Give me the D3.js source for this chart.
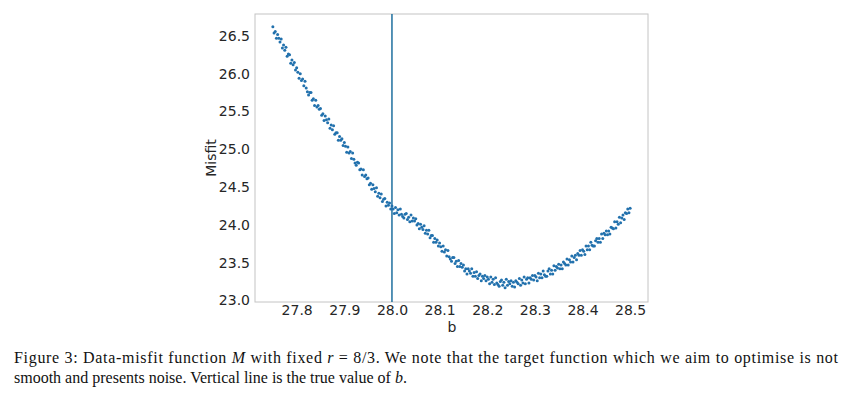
<!DOCTYPE html>
<html>
<head>
<meta charset="utf-8">
<script src="https://cdn.jsdelivr.net/npm/d3@7"></script>
<style>
  body { margin: 0; background: #fff; }
  svg { display: block; }
</style>
</head>
<body>
<script>
// b values (x)
const bValues = [
  27.75,27.7525,27.755,27.7575,27.76,27.7625,27.765,27.7675,27.77,27.7725,
  27.775,27.7775,27.78,27.7825,27.785,27.7875,27.79,27.7925,27.795,27.7975,
  27.8,27.8025,27.805,27.8075,27.81,27.8125,27.815,27.8175,27.82,27.8225,
  27.825,27.8275,27.83,27.8325,27.835,27.8375,27.84,27.8425,27.845,27.8475,
  27.85,27.8525,27.855,27.8575,27.86,27.8625,27.865,27.8675,27.87,27.8725,
  27.875,27.8775,27.88,27.8825,27.885,27.8875,27.89,27.8925,27.895,27.8975,
  27.9,27.9025,27.905,27.9075,27.91,27.9125,27.915,27.9175,27.92,27.9225,
  27.925,27.9275,27.93,27.9325,27.935,27.9375,27.94,27.9425,27.945,27.9475,
  27.95,27.9525,27.955,27.9575,27.96,27.9625,27.965,27.9675,27.97,27.9725,
  27.975,27.9775,27.98,27.9825,27.985,27.9875,27.99,27.9925,27.995,27.9975,
  28.0,28.0025,28.005,28.0075,28.01,28.0125,28.015,28.0175,28.02,28.0225,
  28.025,28.0275,28.03,28.0325,28.035,28.0375,28.04,28.0425,28.045,28.0475,
  28.05,28.0525,28.055,28.0575,28.06,28.0625,28.065,28.0675,28.07,28.0725,
  28.075,28.0775,28.08,28.0825,28.085,28.0875,28.09,28.0925,28.095,28.0975,
  28.1,28.1025,28.105,28.1075,28.11,28.1125,28.115,28.1175,28.12,28.1225,
  28.125,28.1275,28.13,28.1325,28.135,28.1375,28.14,28.1425,28.145,28.1475,
  28.15,28.1525,28.155,28.1575,28.16,28.1625,28.165,28.1675,28.17,28.1725,
  28.175,28.1775,28.18,28.1825,28.185,28.1875,28.19,28.1925,28.195,28.1975,
  28.2,28.2025,28.205,28.2075,28.21,28.2125,28.215,28.2175,28.22,28.2225,
  28.225,28.2275,28.23,28.2325,28.235,28.2375,28.24,28.2425,28.245,28.2475,
  28.25,28.2525,28.255,28.2575,28.26,28.2625,28.265,28.2675,28.27,28.2725,
  28.275,28.2775,28.28,28.2825,28.285,28.2875,28.29,28.2925,28.295,28.2975,
  28.3,28.3025,28.305,28.3075,28.31,28.3125,28.315,28.3175,28.32,28.3225,
  28.325,28.3275,28.33,28.3325,28.335,28.3375,28.34,28.3425,28.345,28.3475,
  28.35,28.3525,28.355,28.3575,28.36,28.3625,28.365,28.3675,28.37,28.3725,
  28.375,28.3775,28.38,28.3825,28.385,28.3875,28.39,28.3925,28.395,28.3975,
  28.4,28.4025,28.405,28.4075,28.41,28.4125,28.415,28.4175,28.42,28.4225,
  28.425,28.4275,28.43,28.4325,28.435,28.4375,28.44,28.4425,28.445,28.4475,
  28.45,28.4525,28.455,28.4575,28.46,28.4625,28.465,28.4675,28.47,28.4725,
  28.475,28.4775,28.48,28.4825,28.485,28.4875,28.49,28.4925,28.495,28.4975,
  28.5
];

// misfit values (y), one per b
const misfit = [
  26.62,26.54,26.56,26.47,26.52,26.47,26.42,26.46,26.34,26.38,
  26.31,26.35,26.23,26.26,26.25,26.14,26.18,26.12,26.15,26.05,
  26.08,26.02,25.94,26.00,25.91,25.93,25.84,25.90,25.81,25.76,
  25.72,25.75,25.75,25.65,25.67,25.58,25.65,25.56,25.58,25.53,
  25.54,25.45,25.47,25.38,25.44,25.39,25.35,25.40,25.28,25.32,
  25.26,25.31,25.20,25.22,25.22,25.12,25.17,25.12,25.14,25.05,
  25.09,25.04,24.96,25.03,24.95,24.97,24.88,24.95,24.87,24.82,
  24.79,24.83,24.82,24.73,24.74,24.66,24.73,24.64,24.66,24.61,
  24.62,24.53,24.55,24.47,24.53,24.48,24.44,24.49,24.38,24.42,
  24.36,24.41,24.31,24.34,24.35,24.25,24.30,24.26,24.29,24.21,
  24.25,24.21,24.15,24.23,24.16,24.20,24.13,24.21,24.14,24.11,
  24.09,24.14,24.15,24.07,24.10,24.04,24.13,24.05,24.09,24.05,
  24.08,24.00,24.02,23.95,24.01,23.97,23.94,23.99,23.89,23.93,
  23.88,23.93,23.83,23.86,23.86,23.77,23.82,23.77,23.80,23.72,
  23.76,23.71,23.65,23.72,23.64,23.67,23.59,23.66,23.58,23.55,
  23.52,23.57,23.57,23.49,23.52,23.45,23.53,23.45,23.49,23.44,
  23.47,23.39,23.42,23.35,23.42,23.39,23.36,23.42,23.32,23.37,
  23.32,23.38,23.29,23.33,23.35,23.26,23.32,23.29,23.33,23.26,
  23.31,23.28,23.22,23.31,23.24,23.28,23.21,23.30,23.23,23.21,
  23.19,23.25,23.27,23.20,23.24,23.17,23.28,23.20,23.25,23.22,
  23.26,23.19,23.24,23.18,23.26,23.24,23.22,23.29,23.20,23.27,
  23.23,23.31,23.22,23.28,23.30,23.23,23.30,23.28,23.33,23.27,
  23.33,23.31,23.26,23.36,23.30,23.35,23.30,23.39,23.34,23.32,
  23.32,23.39,23.42,23.35,23.40,23.35,23.46,23.40,23.45,23.43,
  23.48,23.42,23.47,23.42,23.51,23.49,23.47,23.55,23.47,23.54,
  23.51,23.59,23.51,23.57,23.60,23.54,23.62,23.60,23.66,23.60,
  23.67,23.65,23.61,23.72,23.67,23.72,23.67,23.77,23.73,23.72,
  23.72,23.79,23.82,23.77,23.82,23.77,23.88,23.82,23.89,23.87,
  23.92,23.87,23.92,23.88,23.97,23.96,23.95,24.04,23.96,24.04,
  24.01,24.10,24.03,24.09,24.13,24.07,24.16,24.15,24.21,24.16,
  24.22
];

const xTicks = [27.8, 27.9, 28.0, 28.1, 28.2, 28.3, 28.4, 28.5];
const yTicks = [23.0, 23.5, 24.0, 24.5, 25.0, 25.5, 26.0, 26.5];
const trueB = 28.0;

const W = 852, H = 399;
const plot = { left: 255, right: 648, top: 14, bottom: 302 };

const svg = d3.select("body").append("svg")
    .attr("width", W)
    .attr("height", H);

const x = d3.scaleLinear()
    .domain([27.7125, 28.5375])
    .range([plot.left, plot.right]);

const y = d3.scaleLinear()
    .domain([22.98, 26.79])
    .range([plot.bottom, plot.top]);

// frame
svg.append("rect")
    .attr("x", plot.left)
    .attr("y", plot.top)
    .attr("width", plot.right - plot.left)
    .attr("height", plot.bottom - plot.top)
    .attr("fill", "none")
    .attr("stroke", "#c4c4c4")
    .attr("stroke-width", 1);

const xAxis = svg.append("g")
    .attr("transform", "translate(0," + plot.bottom + ")")
    .call(d3.axisBottom(x).tickValues(xTicks).tickFormat(d3.format(".1f")).tickSize(0).tickPadding(3));

const yAxis = svg.append("g")
    .attr("transform", "translate(" + plot.left + ",0)")
    .call(d3.axisLeft(y).tickValues(yTicks).tickFormat(d3.format(".1f")).tickSize(0).tickPadding(5));

[xAxis, yAxis].forEach(g => {
    g.select(".domain").remove();
    g.selectAll("text")
        .attr("font-family", "DejaVu Sans, sans-serif")
        .attr("font-size", 14)
        .attr("fill", "#262626");
});

// axis labels
svg.append("text")
    .attr("x", 452)
    .attr("y", 332)
    .attr("text-anchor", "middle")
    .attr("font-family", "DejaVu Sans, sans-serif")
    .attr("font-size", 14)
    .attr("fill", "#262626")
    .text("b");

svg.append("text")
    .attr("transform", "translate(216," + ((plot.top + plot.bottom) / 2) + ") rotate(-90)")
    .attr("text-anchor", "middle")
    .attr("font-family", "DejaVu Sans, sans-serif")
    .attr("font-size", 14)
    .attr("fill", "#262626")
    .text("Misfit");

// true value of b
svg.append("line")
    .attr("x1", x(trueB))
    .attr("x2", x(trueB))
    .attr("y1", plot.top)
    .attr("y2", plot.bottom)
    .attr("stroke", "#1f6f9f")
    .attr("stroke-width", 1.5);

// scatter
const points = bValues.map((b, i) => ({ b: b, m: misfit[i] }));
svg.append("g")
    .selectAll("circle")
    .data(points)
    .enter().append("circle")
    .attr("cx", d => x(d.b))
    .attr("cy", d => y(d.m))
    .attr("r", 1.5)
    .attr("fill", "#2271ad");

// caption
const cap = svg.append("g")
    .attr("font-family", "Liberation Serif, Times New Roman, serif")
    .attr("font-size", 16)
    .attr("fill", "#111");

const line1 = cap.append("text")
    .attr("x", 14)
    .attr("y", 363)
    .attr("textLength", 824)
    .attr("lengthAdjust", "spacing");
line1.append("tspan").text("Figure 3: Data-misfit function ");
line1.append("tspan").attr("font-style", "italic").text("M");
line1.append("tspan").text(" with fixed ");
line1.append("tspan").attr("font-style", "italic").text("r");
line1.append("tspan").text(" = 8/3. We note that the target function which we aim to optimise is not");

const line2 = cap.append("text")
    .attr("x", 14)
    .attr("y", 383);
line2.append("tspan").text("smooth and presents noise. Vertical line is the true value of ");
line2.append("tspan").attr("font-style", "italic").text("b");
line2.append("tspan").text(".");
</script>
</body>
</html>
